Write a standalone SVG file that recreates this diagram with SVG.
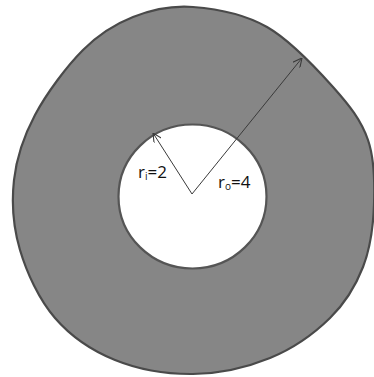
<svg xmlns="http://www.w3.org/2000/svg" width="374" height="377" viewBox="0 0 374 377">
<defs>
<style>
.ring{fill:#868686;stroke:#4a4a4a;stroke-width:2.2}
.hole{fill:#ffffff;stroke:#555555;stroke-width:2.2}
.arr{fill:none;stroke:#3a3a3a;stroke-width:1}
.lbl{font-family:"Open Sans","Liberation Sans",sans-serif;font-size:17px;fill:#111}
.sub{font-size:10px}
</style>
<marker id="ah" viewBox="0 0 10 10" refX="10" refY="5" markerWidth="9" markerHeight="9" orient="auto" markerUnits="userSpaceOnUse">
<path d="M0,0 L10,5 L0,10" fill="none" stroke="#3a3a3a" stroke-width="1.2"/>
</marker>
</defs>
<rect width="374" height="377" fill="#ffffff"/>
<g id="outer">
<path class="ring" d="M193,7 C215.3,8.7 243.7,13.7 267,27 C290.3,40.3 316.2,68.2 333,87 C349.8,105.8 361.2,120.3 368,140 C374.8,159.7 374.8,183.8 374,205 C373.2,226.2 370.3,248.2 363,267 C355.7,285.8 345.5,302.8 330,318 C314.5,333.2 292.8,348.7 270,358 C247.2,367.3 218.8,373.7 193,374 C167.2,374.3 138,369.3 115,360 C92,350.7 70.8,336.3 55,318 C39.2,299.7 26.8,273 20,250 C13.2,227 11.5,202.5 14,180 C16.5,157.5 23.5,136.7 35,115 C46.5,93.3 66.7,66.3 83,50 C99.3,33.7 114.7,24.2 133,17 C151.3,9.8 170.7,5.3 193,7 Z"/>
</g>
<g id="inner">
<ellipse class="hole" cx="192.5" cy="196.5" rx="74" ry="72"/>
</g>
<g id="connectors">
<line class="arr" x1="192" y1="194" x2="153" y2="133" marker-end="url(#ah)"/>
<line class="arr" x1="192" y1="194" x2="302" y2="58" marker-end="url(#ah)"/>
</g>
<g id="labels">
<text class="lbl" x="138" y="178">r<tspan class="sub" dy="2">i</tspan><tspan dy="-2">=2</tspan></text>
<text class="lbl" x="218" y="188">r<tspan class="sub" dy="2">o</tspan><tspan dy="-2">=4</tspan></text>
</g>
</svg>
